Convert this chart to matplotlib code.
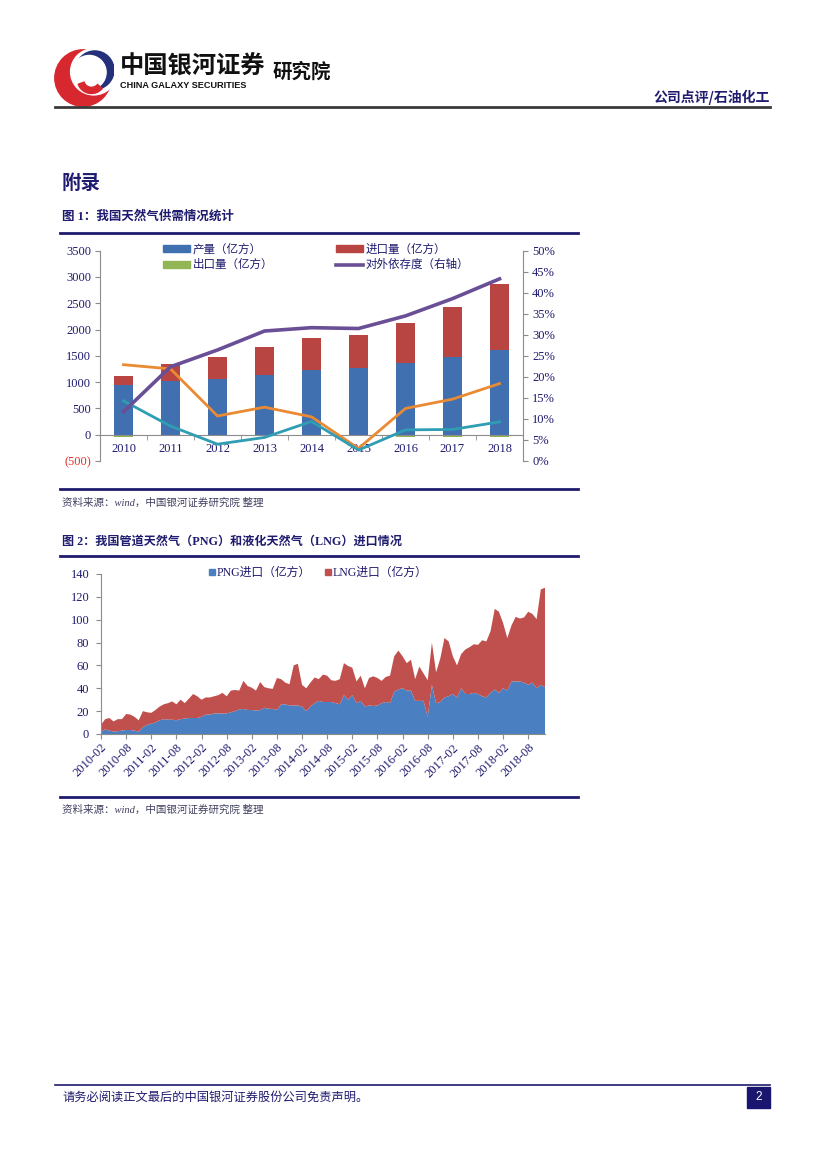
import matplotlib
matplotlib.use("Agg")
import matplotlib.pyplot as plt
import numpy as np
import pandas as pd
from matplotlib.patches import Rectangle, Wedge, Circle
from matplotlib.lines import Line2D

# ---------------- data ----------------
years = ["2010", "2011", "2012", "2013", "2014", "2015", "2016", "2017", "2018"]
production = [940, 1027, 1065, 1129, 1230, 1275, 1363, 1471, 1611]
imports = [170, 311, 412, 532, 603, 615, 755, 958, 1255]
exports = [40, 32, 29, 27, 26, 33, 34, 35, 34]
dependence = [11.7, 22.4, 26.4, 30.9, 31.7, 31.5, 34.5, 38.6, 43.3]
orange_series = [22.9, 21.9, 10.7, 12.8, 10.5, 3.0, 12.5, 14.7, 18.4]
teal_series = [14.3, 8.3, 4.0, 5.6, 9.4, 2.6, 7.4, 7.5, 9.3]
left_ticks = [-500, 0, 500, 1000, 1500, 2000, 2500, 3000, 3500]
left_tick_labels = ["(500)", "0", "500", "1000", "1500", "2000", "2500", "3000", "3500"]
right_ticks = [0, 5, 10, 15, 20, 25, 30, 35, 40, 45, 50]

months = pd.date_range("2010-02-01", periods=107, freq="MS")
png = [2, 4, 3, 2, 2.5, 3, 3.5, 3.5, 3, 2, 6,
       8, 9, 10, 12, 13, 12.5, 12.5, 12, 13, 13.5, 14, 14,
       14, 15, 17, 17, 18, 18, 18, 18, 19, 20, 21.5, 22,
       21, 21, 20.5, 21, 23, 22, 22, 21, 26, 26, 25, 25,
       25, 24, 20, 24, 27, 29, 28, 28, 28, 27, 26, 34,
       30, 34, 27, 29, 24, 25, 24.5, 25, 27, 28, 27, 37,
       39, 40, 38, 38, 29, 29, 29, 15, 43, 27, 28, 32,
       33, 35, 32, 40, 35, 35, 36, 35, 33, 32, 36, 39,
       36, 40, 38, 46, 46, 46, 45, 43, 45, 40, 43, 41]
lng = [6, 9, 11, 9, 10.5, 10, 14, 13.5, 12, 10, 14,
       11, 9.5, 11, 12, 13, 14.5, 16, 14, 17, 13.5, 17, 21,
       19, 15, 15, 15, 15, 16, 18, 15, 19, 18.5, 16.5, 24.5,
       21, 19.5, 17.5, 24.5, 18, 18, 17.5, 28, 22, 19, 18.5, 35,
       36.5, 19, 20, 21, 22.5, 19, 24, 23, 19, 19.5, 22, 28,
       29.5, 24, 19, 22, 16, 24, 26, 24, 19.5, 22, 24, 31,
       34, 28, 24, 27, 19, 30, 24, 32, 37, 27, 38, 52,
       48, 33, 28, 30, 39, 41, 42.5, 43, 49, 49, 54, 70.5,
       71, 57, 46, 49, 56.5, 55, 57, 64, 60, 60.5, 83.5, 87]
y2_ticks = [0, 20, 40, 60, 80, 100, 120, 140]

# ---------------- style ----------------
W, H = 827, 1169
NAVY = "#1f1b6e"
SERIF = ["Liberation Serif", "Noto Sans CJK SC"]
CJK = ["Noto Sans CJK SC", "DejaVu Sans"]
plt.rcParams["font.family"] = SERIF
plt.rcParams["axes.unicode_minus"] = False

def fx(x):
    return x / W

def fy(y):
    return 1 - y / H

fig = plt.figure(figsize=(8.27, 11.69), dpi=100)

def hline(y, x0, x1, lw, color):
    fig.add_artist(Line2D([fx(x0), fx(x1)], [fy(y), fy(y)], color=color, lw=lw,
                          transform=fig.transFigure))

# ---------------- header ----------------
logo = fig.add_axes([fx(52), fy(113), fx(62), 70 / H])
logo.set_xlim(-1.1, 1.1)
logo.set_ylim(-1.1, 1.1)
logo.set_aspect("equal")
logo.axis("off")
RED, BLUE = "#d7282f", "#25307a"
# red crescent on the left
logo.add_patch(Circle((0.0, 0.0), 1.0, color=RED, zorder=1))
logo.add_patch(Circle((0.38, 0.22), 0.82, color="white", zorder=2))
# blue swoosh on the upper right
logo.add_patch(Circle((0.42, 0.28), 0.68, color=BLUE, zorder=3))
logo.add_patch(Circle((0.22, 0.2), 0.6, color="white", zorder=4))
# red tail in the lower middle
logo.add_patch(Wedge((0.3, -0.05), 0.5, 200, 320, width=0.22, color=RED, zorder=5))

fig.text(fx(120), fy(74), "中国银河证券", family=CJK, fontsize=17.5, fontweight="bold",
         color="#111111", ha="left", va="baseline")
fig.text(fx(120), fy(87.5), "CHINA GALAXY SECURITIES", family=["Liberation Sans"],
         fontsize=6.6, fontweight="bold", color="#111111", ha="left", va="baseline")
fig.text(fx(273), fy(78), "研究院", family=CJK, fontsize=14, fontweight="bold",
         color="#111111", ha="left", va="baseline")
fig.text(fx(770), fy(102), "公司点评/石油化工", family=CJK, fontsize=10, fontweight="bold",
         color=NAVY, ha="right", va="baseline")
hline(106.5, 55, 770, 2.0, "#3a3a3a")

fig.text(fx(62), fy(189), "附录", family=CJK, fontsize=14, fontweight="bold",
         color=NAVY, ha="left", va="baseline")

# ---------------- chart 1 ----------------
fig.text(fx(62), fy(220), "图 1：我国天然气供需情况统计", family=SERIF, fontsize=9,
         fontweight="bold", color=NAVY, ha="left", va="baseline")
hline(233, 60, 578, 2.0, NAVY)

ax1 = fig.add_axes([fx(100), fy(461), fx(423), (461 - 250.7) / H])
x = np.arange(len(years))
bw = 0.39
c_blue, c_red, c_green = "#4170b0", "#b94543", "#93b553"
c_purple, c_orange, c_teal = "#6a4f96", "#ea8a33", "#2f9db3"
ax1.bar(x, production, width=bw, color=c_blue, zorder=2)
ax1.bar(x, imports, width=bw, bottom=production, color=c_red, zorder=2)
ax1.bar(x, [-e for e in exports], width=bw, color=c_green, zorder=2)
ax1.set_xlim(-0.5, len(years) - 0.5)
ax1.set_ylim(-500, 3500)
ax1.set_yticks(left_ticks)
ax1.set_yticklabels(left_tick_labels)
for lab in ax1.get_yticklabels():
    lab.set_color("#e0302a" if lab.get_text().startswith("(") else NAVY)
ax1.spines["top"].set_visible(False)
ax1.spines["right"].set_visible(False)
ax1.spines["left"].set_color("#8c8c8c")
ax1.spines["bottom"].set_color("#8c8c8c")
ax1.spines["bottom"].set_position(("data", 0))
ax1.set_xticks(x)
ax1.set_xticklabels(years)
ax1.set_xticks(np.arange(-0.5, len(years) + 0.5, 1.0), minor=True)
ax1.tick_params(axis="x", which="major", length=0, pad=6, labelsize=9, labelcolor=NAVY)
ax1.tick_params(axis="x", which="minor", length=3.5, direction="out", color="#8c8c8c")
ax1.tick_params(axis="y", length=3.5, color="#8c8c8c", labelsize=9, pad=3)

ax1r = ax1.twinx()
ax1r.set_ylim(0, 50)
ax1r.set_yticks(right_ticks)
ax1r.set_yticklabels([f"{t}%" for t in right_ticks])
ax1r.plot(x, orange_series, color=c_orange, lw=2.0, zorder=3)
ax1r.plot(x, teal_series, color=c_teal, lw=2.0, zorder=3)
ax1r.plot(x, dependence, color=c_purple, lw=2.6, zorder=4)
for s in ["top", "left", "bottom"]:
    ax1r.spines[s].set_visible(False)
ax1r.spines["right"].set_color("#8c8c8c")
ax1r.tick_params(axis="y", length=3.5, color="#8c8c8c", labelsize=9, labelcolor=NAVY, pad=3)

handles = [
    Rectangle((0, 0), 1, 1, color=c_blue),
    Rectangle((0, 0), 1, 1, color=c_green),
    Rectangle((0, 0), 1, 1, color=c_red),
    Line2D([0], [0], color=c_purple, lw=2.6),
]
labels = ["产量（亿方）", "出口量（亿方）", "进口量（亿方）", "对外依存度（右轴）"]
leg = ax1.legend(handles, labels, ncol=2, loc="upper left",
                 bbox_to_anchor=(fx(163), fy(243)), bbox_transform=fig.transFigure,
                 frameon=False, handlelength=2.3, handleheight=0.55,
                 handletextpad=0.25, columnspacing=5.5, labelspacing=0.2,
                 borderaxespad=0, borderpad=0, prop={"family": CJK, "size": 8.3})
for t in leg.get_texts():
    t.set_color(NAVY)

hline(489, 60, 578, 2.0, NAVY)
fig.text(fx(62), fy(506), "资料来源：wind，中国银河证券研究院 整理", family=SERIF, fontsize=7.6,
         style="italic", color="#404060", ha="left", va="baseline")

# ---------------- chart 2 ----------------
fig.text(fx(62), fy(545), "图 2：我国管道天然气（PNG）和液化天然气（LNG）进口情况", family=SERIF,
         fontsize=8.7, fontweight="bold", color=NAVY, ha="left", va="baseline")
hline(556, 60, 578, 2.0, NAVY)

ax2 = fig.add_axes([fx(101), fy(734), fx(444), 160 / H])
idx = np.arange(len(months))
c2_blue, c2_red = "#4a7fc1", "#c0504d"
ax2.stackplot(idx, png, lng, colors=[c2_blue, c2_red], linewidth=0)
ax2.set_xlim(0, len(months) - 1)
ax2.set_ylim(0, 140)
ax2.set_yticks(y2_ticks)
tick_idx = list(range(0, len(months), 6))
ax2.set_xticks(tick_idx)
ax2.set_xticklabels([months[i].strftime("%Y-%m") for i in tick_idx], rotation=45,
                    ha="right", rotation_mode="anchor")
for s in ["top", "right"]:
    ax2.spines[s].set_visible(False)
ax2.spines["left"].set_color("#8c8c8c")
ax2.spines["bottom"].set_color("#8c8c8c")
ax2.tick_params(axis="both", length=3.5, color="#8c8c8c", labelsize=9, labelcolor=NAVY)
ax2.tick_params(axis="y", pad=5)
ax2.tick_params(axis="x", pad=2)

h2 = [Line2D([0], [0], marker="s", ls="none", color=c2_blue, markersize=4.5),
      Line2D([0], [0], marker="s", ls="none", color=c2_red, markersize=4.5)]
leg2 = ax2.legend(h2, ["PNG进口（亿方）", "LNG进口（亿方）"], ncol=2, loc="upper left",
                  bbox_to_anchor=(fx(208), fy(567)), bbox_transform=fig.transFigure,
                  frameon=False, handlelength=0.6, handletextpad=0.1, columnspacing=1.2,
                  borderaxespad=0, borderpad=0, prop={"family": SERIF, "size": 8.5})
for t in leg2.get_texts():
    t.set_color(NAVY)

hline(797, 60, 578, 2.0, NAVY)
fig.text(fx(62), fy(813), "资料来源：wind，中国银河证券研究院 整理", family=SERIF, fontsize=7.6,
         style="italic", color="#404060", ha="left", va="baseline")

# ---------------- footer ----------------
hline(1085, 55, 770, 1.2, NAVY)
fig.text(fx(62), fy(1101), "请务必阅读正文最后的中国银河证券股份公司免责声明。", family=CJK,
         fontsize=8.8, color=NAVY, ha="left", va="baseline")
fig.add_artist(Rectangle((fx(747), fy(1108)), fx(23), 21 / H, color="#1a1670",
                         transform=fig.transFigure))
fig.text(fx(758.5), fy(1097.5), "2", family=["Liberation Sans"], fontsize=8.5,
         color="white", ha="center", va="center")

fig.savefig("out.png", dpi=100)
